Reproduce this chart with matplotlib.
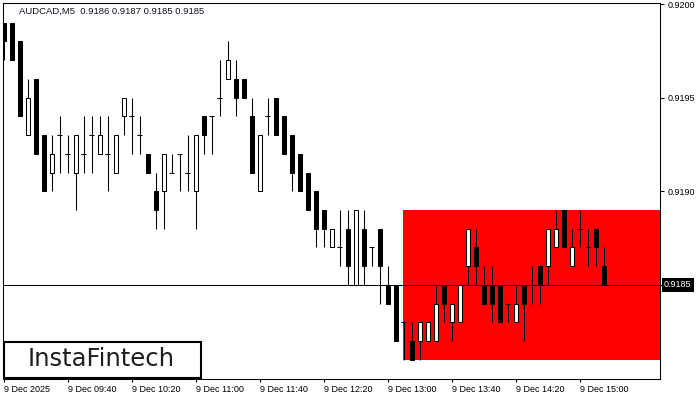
import matplotlib
matplotlib.use("Agg")
import matplotlib.pyplot as plt
from matplotlib.patches import Rectangle
from matplotlib.transforms import offset_copy

# ---------------- data ----------------
symbol_title = "AUDCAD,M5  0.9186 0.9187 0.9185 0.9185"
opens = [0.9199, 0.9199, 0.9198, 0.9193, 0.9196, 0.9193, 0.9191, 0.9193, 0.9192, 0.9191,
         0.9192, 0.9193, 0.9192, 0.9192, 0.9191, 0.9194, 0.9194, 0.9193, 0.9192, 0.9190,
         0.9190, 0.9191, 0.9192, 0.9191, 0.9190, 0.9194, 0.9194, 0.9195, 0.9196, 0.9196,
         0.9196, 0.9194, 0.9190, 0.9194, 0.9195, 0.9194, 0.9193, 0.9192, 0.9191, 0.9190,
         0.9189, 0.9187, 0.9187, 0.9188, 0.9185, 0.9188, 0.9187, 0.9188, 0.9185, 0.9185,
         0.9183, 0.9182, 0.9182, 0.9182, 0.9182, 0.9185, 0.9183, 0.9183, 0.9186, 0.9187,
         0.9185, 0.9185, 0.9185, 0.9184, 0.9183, 0.9185, 0.9185, 0.9186, 0.9186, 0.9187,
         0.9189, 0.9186, 0.9188, 0.9187, 0.9188, 0.9186]
highs = [0.9199, 0.9199, 0.9198, 0.9196, 0.9196, 0.9193, 0.9193, 0.9194, 0.9193, 0.9193,
         0.9194, 0.9194, 0.9194, 0.9194, 0.9193, 0.9195, 0.9195, 0.9194, 0.9192, 0.9191,
         0.9192, 0.9192, 0.9192, 0.9193, 0.9193, 0.9194, 0.9194, 0.9197, 0.9198, 0.9197,
         0.9196, 0.9195, 0.9193, 0.9195, 0.9195, 0.9194, 0.9193, 0.9192, 0.9191, 0.9190,
         0.9189, 0.9188, 0.9189, 0.9189, 0.9189, 0.9189, 0.9187, 0.9188, 0.9186, 0.9185,
         0.9183, 0.9183, 0.9183, 0.9183, 0.9185, 0.9185, 0.9184, 0.9185, 0.9188, 0.9188,
         0.9186, 0.9186, 0.9185, 0.9184, 0.9185, 0.9185, 0.9186, 0.9186, 0.9188, 0.9189,
         0.9189, 0.9188, 0.9189, 0.9188, 0.9188, 0.9187]
lows = [0.9197, 0.9197, 0.9194, 0.9193, 0.9192, 0.9190, 0.9190, 0.9191, 0.9191, 0.9189,
        0.9191, 0.9191, 0.9192, 0.9190, 0.9191, 0.9193, 0.9192, 0.9192, 0.9191, 0.9188,
        0.9188, 0.9191, 0.9190, 0.9190, 0.9188, 0.9192, 0.9192, 0.9194, 0.9196, 0.9194,
        0.9195, 0.9191, 0.9190, 0.9193, 0.9193, 0.9192, 0.9190, 0.9190, 0.9189, 0.9187,
        0.9187, 0.9187, 0.9186, 0.9185, 0.9185, 0.9185, 0.9186, 0.9184, 0.9184, 0.9182,
        0.9181, 0.9181, 0.9181, 0.9182, 0.9182, 0.9183, 0.9182, 0.9183, 0.9185, 0.9185,
        0.9184, 0.9183, 0.9183, 0.9183, 0.9183, 0.9182, 0.9184, 0.9184, 0.9185, 0.9187,
        0.9187, 0.9186, 0.9187, 0.9186, 0.9186, 0.9185]
closes = [0.9198, 0.9197, 0.9194, 0.9195, 0.9192, 0.9190, 0.9192, 0.9193, 0.9192, 0.9193,
          0.9192, 0.9193, 0.9193, 0.9192, 0.9193, 0.9195, 0.9194, 0.9193, 0.9191, 0.9189,
          0.9192, 0.9191, 0.9192, 0.9191, 0.9193, 0.9193, 0.9194, 0.9195, 0.9197, 0.9195,
          0.9195, 0.9191, 0.9193, 0.9194, 0.9193, 0.9192, 0.9191, 0.9190, 0.9189, 0.9188,
          0.9188, 0.9188, 0.9187, 0.9186, 0.9189, 0.9186, 0.9187, 0.9186, 0.9184, 0.9182,
          0.9183, 0.9181, 0.9183, 0.9183, 0.9184, 0.9184, 0.9184, 0.9185, 0.9188, 0.9186,
          0.9184, 0.9184, 0.9183, 0.9184, 0.9184, 0.9184, 0.9185, 0.9185, 0.9188, 0.9188,
          0.9187, 0.9187, 0.9188, 0.9187, 0.9187, 0.9185]
time_tick_index = [0, 8, 16, 24, 32, 40, 48, 56, 64, 72]
time_tick_labels = ["9 Dec 2025", "9 Dec 09:40", "9 Dec 10:20", "9 Dec 11:00", "9 Dec 11:40",
                    "9 Dec 12:20", "9 Dec 13:00", "9 Dec 13:40", "9 Dec 14:20", "9 Dec 15:00"]
price_ticks = [0.9185, 0.9190, 0.9195, 0.9200]
price_tick_labels = ["", "0.9190", "0.9195", "0.9200"]
current_price = 0.9185
current_price_label = "0.9185"
zone_start = 49.94
zone_high = 0.9189
zone_low = 0.9181
logo_text = "InstaFintech"

# ---------------- figure ----------------
W, H = 700, 400
fig = plt.figure(figsize=(7, 4), dpi=100)
fig.patch.set_facecolor("white")
ax_l, ax_r, ax_t, ax_b = 2.5, 659.5, 2.5, 378.5
ax = fig.add_axes([ax_l / W, (H - ax_b) / H, (ax_r - ax_l) / W, (ax_b - ax_t) / H])
ax.set_facecolor("white")

px_per_bar = 8.0
first_center = 3.5
xmin = (ax_l - first_center) / px_per_bar
xmax = (ax_r - first_center) / px_per_bar
ax.set_xlim(xmin, xmax)
px_per_price = 187300.0
ax.set_ylim(0.9200 - (ax_b - 4) / px_per_price, 0.9200 + (4 - ax_t) / px_per_price)

font = "Liberation Sans"
lw = 0.75

# zone
ax.add_patch(Rectangle((zone_start, zone_low), xmax - zone_start, zone_high - zone_low,
                       facecolor="#ff0000", edgecolor="none", zorder=1))
# price line
ax.axhline(current_price, color="black", lw=lw, zorder=2)

# candles
n = len(opens)
for i in range(n):
    o, h, l, c = opens[i], highs[i], lows[i], closes[i]
    ax.vlines(i, l, h, color="black", lw=lw, zorder=3)
    if abs(c - o) < 1e-9:
        ax.hlines(o, i - 0.3, i + 0.3, color="black", lw=lw, zorder=4)
    else:
        face = "white" if c > o else "black"
        ax.bar(i, abs(c - o), bottom=min(o, c), width=0.5, facecolor=face,
               edgecolor="black", linewidth=lw, zorder=4)

# spines
for s in ax.spines.values():
    s.set_color("black")
    s.set_linewidth(lw)

# x ticks
ax.set_xticks(time_tick_index)
ax.set_xticklabels(time_tick_labels, fontsize=6.5, family=font)
for lbl in ax.get_xticklabels():
    lbl.set_ha("left")
ax.tick_params(axis="x", direction="out", length=2.5, width=lw, pad=2.5, colors="black")

# y ticks on right
ax.yaxis.tick_right()
ax.set_yticks(price_ticks)
ax.set_yticklabels(price_tick_labels, fontsize=6.5, family=font)
ax.tick_params(axis="y", direction="out", length=3, width=lw, pad=3, colors="black")

# current price label
trans = offset_copy(ax.get_yaxis_transform(), fig=fig, x=4.5, y=0, units="dots")
ax.text(1.0, current_price, current_price_label, transform=trans, ha="left", va="center",
        fontsize=6.5, family=font, color="white", clip_on=False,
        bbox=dict(boxstyle="square,pad=0.25", facecolor="black", edgecolor="none"))

# title
fig.text(19 / W, 1 - 11 / H, symbol_title, fontsize=6.8, family=font, color="#101028",
         ha="left", va="center")

# logo
fig.add_artist(Rectangle((3.5 / W, (H - 378) / H), 197 / W, 36.5 / H,
                         transform=fig.transFigure, facecolor="white", edgecolor="black",
                         linewidth=1.5, zorder=10))
fig.text(101.5 / W, (H - 359.5) / H, logo_text, fontsize=17.5, family="DejaVu Sans",
         color="#1e1e1e", ha="center", va="center", zorder=11)

fig.savefig("out.png", dpi=100)
